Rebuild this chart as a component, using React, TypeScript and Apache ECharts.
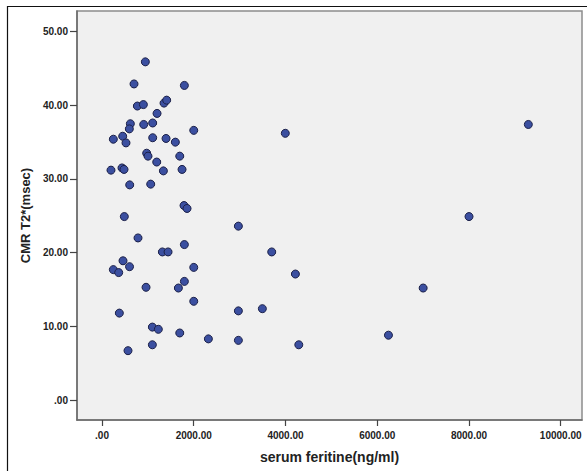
import React, { useEffect, useRef } from "react";
import * as echarts from "echarts";

const serumFeritine: number[] = [
  945, 698, 1796, 771, 902, 1352, 1410, 1200, 618, 596,
  909, 1105, 2000, 247, 451, 523, 1105, 1396, 1599, 974,
  1003, 1193, 1695, 196, 436, 480, 1338, 1745, 604, 1062,
  1788, 1854, 487, 2973, 785, 1796, 1316, 1440, 458, 600,
  247, 364, 2000, 1796, 960, 1665, 2000, 2973, 378, 1098,
  1228, 1695, 2319, 2973, 1098, 567,
  3700, 4216, 7001, 3496, 4290, 6245, 3996, 9294, 8001,
];

const cmrT2: number[] = [
  45.9, 42.9, 42.7, 39.9, 40.1, 40.3, 40.7, 38.9, 37.5, 36.8,
  37.4, 37.6, 36.6, 35.4, 35.8, 34.9, 35.6, 35.5, 35.0, 33.5,
  33.1, 32.3, 33.1, 31.2, 31.5, 31.3, 31.1, 31.3, 29.2, 29.3,
  26.4, 26.0, 24.9, 23.6, 22.0, 21.1, 20.1, 20.1, 18.9, 18.1,
  17.7, 17.3, 18.0, 16.1, 15.3, 15.2, 13.4, 12.1, 11.8, 9.9,
  9.6, 9.1, 8.3, 8.1, 7.5, 6.7,
  20.1, 17.1, 15.2, 12.4, 7.5, 8.8, 36.2, 37.4, 24.9,
];

const xTicks: number[] = [0, 2000, 4000, 6000, 8000, 10000];
const yTicks: number[] = [0, 10, 20, 30, 40, 50];

const fmt = (v: number) => (v === 0 ? ".00" : v.toFixed(2));

export default function App() {
  const ref = useRef<HTMLDivElement>(null);
  useEffect(() => {
    if (!ref.current) return;
    const chart = echarts.init(ref.current, null, { renderer: "svg" });
    const font = "'Liberation Sans', Arial, sans-serif";
    const labelStyle = {
      fontFamily: font,
      fontWeight: "bold" as const,
      fontSize: 10,
      color: "#222",
    };
    chart.setOption({
      animation: false,
      backgroundColor: "#ffffff",
      graphic: [
        {
          type: "rect",
          shape: { x: 7.5, y: 6.5, width: 700, height: 700 },
          style: { fill: "none", stroke: "#111", lineWidth: 1.2 },
          silent: true,
        },
      ],
      grid: {
        left: 77,
        top: 11,
        right: 5,
        bottom: 51,
        show: true,
        backgroundColor: "#f0f0f0",
        borderColor: "#8c8c8c",
        borderWidth: 1.5,
      },
      xAxis: {
        type: "value",
        min: -545,
        max: 10464,
        splitLine: { show: false },
        axisLine: { show: true, onZero: false, lineStyle: { color: "#6a6a6a", width: 1.5 } },
        axisTick: {
          show: true,
          length: 6,
          customValues: xTicks,
          lineStyle: { color: "#444", width: 1.2 },
        },
        axisLabel: {
          ...labelStyle,
          margin: 10,
          customValues: xTicks,
          formatter: (v: number) => fmt(v),
        },
        name: "serum feritine(ng/ml)",
        nameLocation: "middle",
        nameGap: 30,
        nameTextStyle: {
          fontFamily: font,
          fontWeight: "bold",
          fontSize: 14,
          color: "#222",
        },
      },
      yAxis: {
        type: "value",
        min: -2.71,
        max: 52.8,
        splitLine: { show: false },
        axisLine: { show: true, onZero: false, lineStyle: { color: "#6a6a6a", width: 1.5 } },
        axisTick: {
          show: true,
          length: 7,
          customValues: yTicks,
          lineStyle: { color: "#444", width: 1.2 },
        },
        axisLabel: {
          ...labelStyle,
          margin: 9,
          customValues: yTicks,
          formatter: (v: number) => fmt(v),
        },
        name: "CMR T2*(msec)",
        nameLocation: "middle",
        nameGap: 34,
        nameTextStyle: {
          fontFamily: font,
          fontWeight: "bold",
          fontSize: 13,
          color: "#222",
        },
      },
      series: [
        {
          type: "scatter",
          data: serumFeritine.map((x, i) => [x, cmrT2[i]]),
          symbol: "circle",
          symbolSize: 8,
          itemStyle: {
            color: "#3b4fa0",
            borderColor: "#1b2048",
            borderWidth: 1,
            opacity: 1,
          },
        },
      ],
    });
    return () => chart.dispose();
  }, []);
  return (
    <div
      ref={ref}
      style={{ position: "fixed", left: 0, top: 0, width: 587, height: 471 }}
    />
  );
}
